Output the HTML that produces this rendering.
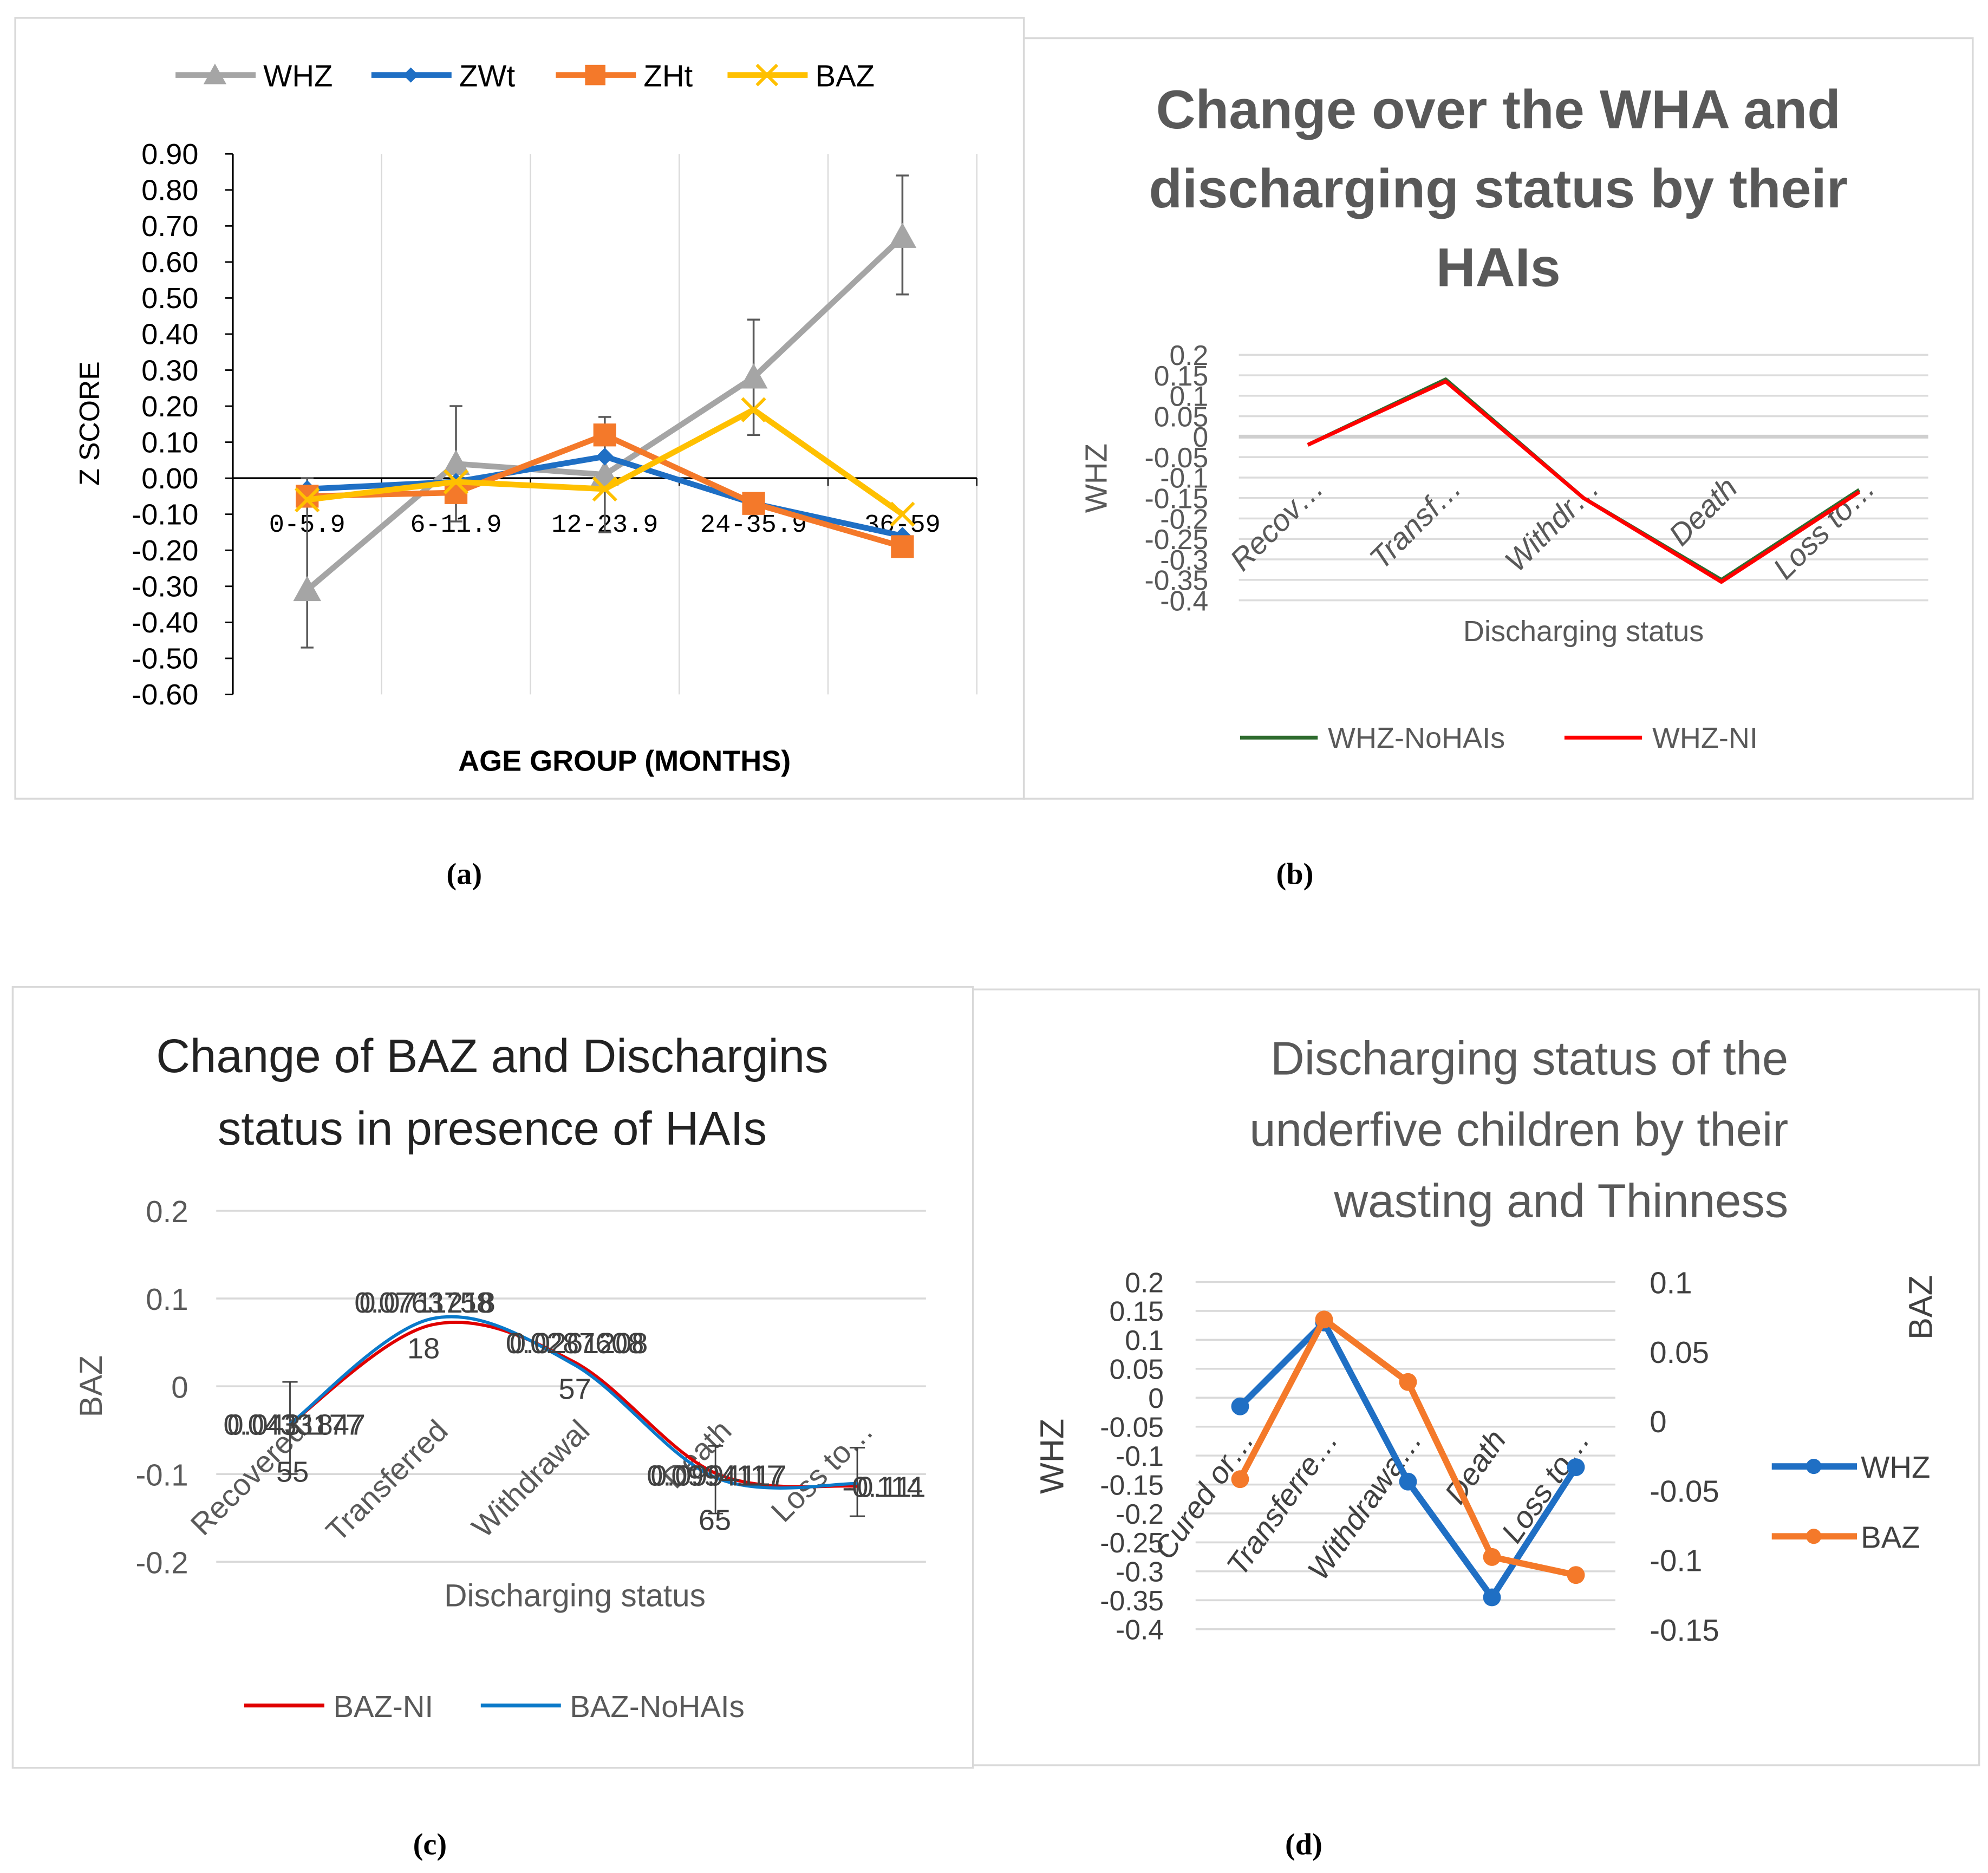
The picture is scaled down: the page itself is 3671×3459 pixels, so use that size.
<!DOCTYPE html>
<html><head><meta charset="utf-8"><style>
html,body{margin:0;padding:0;background:#fff}
svg{display:block;font-family:"Liberation Sans",sans-serif}
</style></head><body>
<svg id="root" width="3671" height="3459" viewBox="0 0 1563 1472.7" preserveAspectRatio="none" xmlns="http://www.w3.org/2000/svg">
<rect x="0" y="0" width="1563" height="1473" fill="#fff"/>
<rect x="12" y="14" width="793" height="614" fill="none" stroke="#d9d9d9" stroke-width="1.5"/>
<rect x="805" y="30" width="746" height="598" fill="none" stroke="#d9d9d9" stroke-width="1.5"/>
<rect x="10" y="776" width="755" height="614" fill="none" stroke="#d9d9d9" stroke-width="1.5"/>
<rect x="765" y="778" width="791" height="610" fill="none" stroke="#d9d9d9" stroke-width="1.5"/>
<g style="font-family:'Liberation Serif',serif" font-weight="bold" font-size="24" text-anchor="middle" fill="#000">
<text x="365" y="695">(a)</text>
<text x="1018" y="695">(b)</text>
<text x="338" y="1458">(c)</text>
<text x="1025" y="1458">(d)</text>
</g>
<g id="A"></g><g id="B"></g><g id="C"></g><g id="D"></g>
</svg>
<script>
// ---- Panel A data ----
const aCats = ["0-5.9","6-11.9","12-23.9","24-35.9","36-59"];
const aWHZ = [-0.31, 0.04, 0.01, 0.28, 0.67];
const aZWt = [-0.03, -0.01, 0.06, -0.07, -0.16];
const aZHt = [-0.05, -0.04, 0.12, -0.07, -0.19];
const aBAZ = [-0.06, -0.01, -0.03, 0.19, -0.10];
const aErrHi = [0.00, 0.20, 0.17, 0.44, 0.84];
const aErrLo = [-0.47, -0.12, -0.15, 0.12, 0.51];
const aTicks = [0.9,0.8,0.7,0.6,0.5,0.4,0.3,0.2,0.1,0,-0.1,-0.2,-0.3,-0.4,-0.5,-0.6];
// ---- Panel B data ----
const bCats = ["Recov…","Transf…","Withdr…","Death","Loss to…"];
const bNoHAIs = [-0.02, 0.14, -0.15, -0.35, -0.13];
const bNI = [-0.02, 0.135, -0.15, -0.355, -0.135];
const bTicks = [0.2,0.15,0.1,0.05,0,-0.05,-0.1,-0.15,-0.2,-0.25,-0.3,-0.35,-0.4];
// ---- Panel C data ----
const cCats = ["Recovered","Transferred","Withdrawal","Death","Loss to…"];
const cNI = [-0.043, 0.070, 0.028, -0.099, -0.114];
const cNoHAIs = [-0.043, 0.077, 0.025, -0.104, -0.111];
const cTicks = [0.2,0.1,0,-0.1,-0.2];
// ---- Panel D data ----
const dCats = ["Cured or…","Transferre…","Withdrawa…","Death","Loss to…"];
const dWHZ = [-0.015, 0.13, -0.145, -0.345, -0.12];
const dBAZ = [-0.042, 0.073, 0.028, -0.098, -0.111];
const dLeftTicks = [0.2,0.15,0.1,0.05,0,-0.05,-0.1,-0.15,-0.2,-0.25,-0.3,-0.35,-0.4];
const dRightTicks = [0.1,0.05,0,-0.05,-0.1,-0.15];

const NS="http://www.w3.org/2000/svg";
function mk(parent, tag, attrs, txt){
  const e=document.createElementNS(NS,tag);
  for(const k in attrs) e.setAttribute(k,attrs[k]);
  if(txt!==undefined) e.textContent=txt;
  parent.appendChild(e); return e;
}
function fmt2(v){return (v<0?"-":"")+Math.abs(v).toFixed(2);}
function smooth(pts){
  let d="M"+pts[0][0]+","+pts[0][1];
  for(let i=0;i<pts.length-1;i++){
    const p0=pts[i-1]||pts[i],p1=pts[i],p2=pts[i+1],p3=pts[i+2]||p2;
    const c1=[p1[0]+(p2[0]-p0[0])/6,p1[1]+(p2[1]-p0[1])/6];
    const c2=[p2[0]-(p3[0]-p1[0])/6,p2[1]-(p3[1]-p1[1])/6];
    d+=" C"+c1+" "+c2+" "+p2;
  }
  return d;
}

// ===== Panel A =====
(function(){
  const g=document.getElementById('A');
  const left=183,right=768,top=121,bot=546,vmax=0.9,vmin=-0.6;
  const y=v=>top+(vmax-v)/(vmax-vmin)*(bot-top);
  const bw=(right-left)/aCats.length;
  const x=i=>left+(i+0.5)*bw;
  for(let i=1;i<=aCats.length;i++){
    const gl=mk(g,'line',{x1:left+i*bw,x2:left+i*bw,y1:top,y2:bot,stroke:'#d9d9d9','stroke-width':1});
    
    
  }
  const ax=mk(g,'line',{x1:left,x2:left,y1:top,y2:bot,stroke:'#000','stroke-width':1.5});
  
  
  aTicks.forEach(t=>{
    mk(g,'line',{x1:left-6,x2:left,y1:y(t),y2:y(t),stroke:'#000','stroke-width':1.2});
    const tl=mk(g,'text',{x:left-27,y:y(t)+8,'text-anchor':'end','font-size':23,fill:'#000'},fmt2(t));
    
    
  });
  const zx=mk(g,'line',{x1:left,x2:right,y1:y(0),y2:y(0),stroke:'#000','stroke-width':1.5});
  
  
  for(let i=0;i<=aCats.length;i++) mk(g,'line',{x1:left+i*bw,x2:left+i*bw,y1:y(0),y2:y(0)+6,stroke:'#000'});
  aCats.forEach((c,i)=>{
    const t=mk(g,'text',{x:x(i),y:y(0)+42,'text-anchor':'middle','font-size':20,style:"font-family:'Liberation Mono',monospace",fill:'#000'},c);
    
    
  });
  aCats.forEach((c,i)=>{
    const e=mk(g,'path',{d:`M${x(i)},${y(aErrHi[i])}V${y(aErrLo[i])}M${x(i)-5},${y(aErrHi[i])}h10M${x(i)-5},${y(aErrLo[i])}h10`,stroke:'#595959','stroke-width':1.5,fill:'none'});
    
    
  });
  const series=[[aWHZ,'#a5a5a5','tri','whz'],[aZWt,'#1f6fc4','dia','zwt'],[aZHt,'#f4792a','sq','zht'],[aBAZ,'#ffc000','x','baz']];
  function marker(gg,type,cx,cy,col,s){
    if(type==='tri') return mk(gg,'path',{d:`M${cx},${cy-s}L${cx+s},${cy+s*0.8}L${cx-s},${cy+s*0.8}Z`,fill:col});
    if(type==='dia') return mk(gg,'path',{d:`M${cx},${cy-s}L${cx+s},${cy}L${cx},${cy+s}L${cx-s},${cy}Z`,fill:col});
    if(type==='sq') return mk(gg,'rect',{x:cx-s,y:cy-s,width:2*s,height:2*s,fill:col});
    return mk(gg,'path',{d:`M${cx-s},${cy-s}L${cx+s},${cy+s}M${cx-s},${cy+s}L${cx+s},${cy-s}`,stroke:col,'stroke-width':2.5,fill:'none'});
  }
  series.forEach(([vals,col,m,n])=>{
    const pl=mk(g,'polyline',{points:vals.map((v,i)=>x(i)+','+y(v)).join(' '),fill:'none',stroke:col,'stroke-width':4.5,'stroke-linejoin':'round'});
    
    
    vals.forEach((v,i)=>{
      const s={tri:11,dia:7,sq:9,x:9}[m];
      const mm=marker(g,m,x(i),y(v),col,s);
      
      
    });
  });
  const leg=[['WHZ','#a5a5a5','tri',138],['ZWt','#1f6fc4','dia',292],['ZHt','#f4792a','sq',437],['BAZ','#ffc000','x',572]];
  leg.forEach(([n,col,m,lx])=>{
    const lg=mk(g,'g',{});
    
    
    mk(lg,'line',{x1:lx,x2:lx+63,y1:59,y2:59,stroke:col,'stroke-width':4.5});
    marker(lg,m,lx+31,59,col,{tri:9,dia:6,sq:8,x:8}[m]);
    mk(lg,'text',{x:lx+69,y:68,'font-size':24,fill:'#000'},n);
  });
  const yt=mk(g,'text',{x:0,y:0,transform:'translate(78,333) rotate(-90)','text-anchor':'middle','font-size':22,fill:'#000'},'Z SCORE');
  
  
  const xt=mk(g,'text',{x:491,y:606,'text-anchor':'middle','font-size':23,'font-weight':'bold',fill:'#000'},'AGE GROUP (MONTHS)');
  
  
})();

// ===== Panel B =====
(function(){
  const g=document.getElementById('B');
  const left=974,right=1516,top=279,bot=472,vmax=0.2,vmin=-0.4;
  const y=v=>top+(vmax-v)/(vmax-vmin)*(bot-top);
  const bw=(right-left)/bCats.length;
  const x=i=>left+(i+0.5)*bw;
  ['Change over the WHA and','discharging status by their','HAIs'].forEach((l,i)=>{
    const t=mk(g,'text',{x:1178,y:101+i*62,'text-anchor':'middle','font-size':43,'font-weight':'bold',fill:'#595959'},l);
    
    
  });
  bTicks.forEach(t=>{
    const gl=mk(g,'line',{x1:left,x2:right,y1:y(t),y2:y(t),stroke:t===0?'#cfcfcf':'#dcdcdc','stroke-width':t===0?3:1.5});
    
    
    const tl=mk(g,'text',{x:950,y:y(t)+8,'text-anchor':'end','font-size':22,fill:'#595959'},String(t));
    
    
  });
  bCats.forEach((c,i)=>{
    const t=mk(g,'text',{x:0,y:0,transform:`translate(${x(i)+14},${y(-0.13)}) rotate(-45)`,'text-anchor':'end','font-size':24,'font-style':'italic',fill:'#595959'},c);
    
    
  });
  [[bNoHAIs,'#2e6b2e','nohais'],[bNI,'#ff0000','ni']].forEach(([vals,col,n])=>{
    const pl=mk(g,'polyline',{points:vals.map((v,i)=>x(i)+','+y(v)).join(' '),fill:'none',stroke:col,'stroke-width':3,'stroke-linejoin':'round'});
    
    
  });
  const yt=mk(g,'text',{x:0,y:0,transform:'translate(870,376) rotate(-90)','text-anchor':'middle','font-size':24,fill:'#595959'},'WHZ');
  
  
  const xt=mk(g,'text',{x:1245,y:504,'text-anchor':'middle','font-size':23,fill:'#595959'},'Discharging status');
  
  
  [['WHZ-NoHAIs','#2e6b2e',975],['WHZ-NI','#ff0000',1230]].forEach(([n,col,lx])=>{
    const lg=mk(g,'g',{});
    
    
    mk(lg,'line',{x1:lx,x2:lx+61,y1:580,y2:580,stroke:col,'stroke-width':3});
    mk(lg,'text',{x:lx+69,y:588,'font-size':23,fill:'#595959'},n);
  });
})();

// ===== Panel C =====
(function(){
  const g=document.getElementById('C');
  const left=170,right=728,top=952,bot=1228,vmax=0.2,vmin=-0.2;
  const y=v=>top+(vmax-v)/(vmax-vmin)*(bot-top);
  const x=i=>228+i*111.5;
  ['Change of BAZ and Dischargins','status in presence of HAIs'].forEach((l,i)=>{
    const t=mk(g,'text',{x:387,y:843+i*57,'text-anchor':'middle','font-size':37,fill:'#222'},l);
    
    
  });
  cTicks.forEach(t=>{
    const gl=mk(g,'line',{x1:left,x2:right,y1:y(t),y2:y(t),stroke:'#d9d9d9','stroke-width':1.5});
    
    
    const tl=mk(g,'text',{x:148,y:y(t)+9,'text-anchor':'end','font-size':24,fill:'#595959'},String(t));
    
    
  });
  cCats.forEach((c,i)=>{
    const t=mk(g,'text',{x:0,y:0,transform:`translate(${x(i)+14},${y(-0.05)+2}) rotate(-45)`,'text-anchor':'end','font-size':24,fill:'#595959'},c);
    
    
  });
  [[0,0.005,-0.1],[3,-0.068,-0.145],[4,-0.07,-0.148]].forEach(([i,hi,lo])=>{
    const e=mk(g,'path',{d:`M${x(i)},${y(hi)}V${y(lo)}M${x(i)-6},${y(hi)}h12M${x(i)-6},${y(lo)}h12`,stroke:'#404040','stroke-width':1.2,fill:'none'});
    
    
  });
  [[cNI,'#e00000','ni'],[cNoHAIs,'#0a79c9','nohais']].forEach(([vals,col,n])=>{
    const p=mk(g,'path',{d:smooth(vals.map((v,i)=>[x(i),y(v)])),fill:'none',stroke:col,'stroke-width':2.5});
    
    
  });
  const lbl=[[230,1128,'0.0433177','0.0431847'],[333,1032,'0.0763758','0.0711218'],[452,1064,'0.0287608','0.0261208'],[562,1168,'0.0994117','0.0994117'],[694,1177,'-0.114','-0.111']];
  lbl.forEach(([lx,ly,a,b])=>{
    const t1=mk(g,'text',{x:lx,y:ly,'text-anchor':'middle','font-size':23,fill:'#404040'},a);
    
    
    const t2=mk(g,'text',{x:lx+3,y:ly,'text-anchor':'middle','font-size':23,fill:'#404040'},b);
    
    
  });
  [[230,1165,'55'],[333,1068,'18'],[452,1100,'57'],[562,1203,'65']].forEach(([lx,ly,s])=>{
    const t=mk(g,'text',{x:lx,y:ly,'text-anchor':'middle','font-size':23,fill:'#404040'},s);
    
    
  });
  const yt=mk(g,'text',{x:0,y:0,transform:'translate(80,1090) rotate(-90)','text-anchor':'middle','font-size':25,fill:'#595959'},'BAZ');
  
  
  const xt=mk(g,'text',{x:452,y:1263,'text-anchor':'middle','font-size':25,fill:'#595959'},'Discharging status');
  
  
  [['BAZ-NI','#e00000',192],['BAZ-NoHAIs','#0a79c9',378]].forEach(([n,col,lx])=>{
    const lg=mk(g,'g',{});
    
    
    mk(lg,'line',{x1:lx,x2:lx+63,y1:1341,y2:1341,stroke:col,'stroke-width':3});
    mk(lg,'text',{x:lx+70,y:1350,'font-size':24,fill:'#595959'},n);
  });
})();

// ===== Panel D =====
(function(){
  const g=document.getElementById('D');
  const left=940,right=1270,top=1008,bot=1281;
  const yl=v=>top+(0.2-v)/0.6*(bot-top);
  const yr=v=>top+(0.1-v)/0.25*(bot-top);
  const bw=(right-left)/dCats.length;
  const x=i=>left+(i+0.5)*bw+2;
  ['Discharging status of the','underfive children by their','wasting and Thinness'].forEach((l,i)=>{
    const t=mk(g,'text',{x:1406,y:845+i*56,'text-anchor':'end','font-size':37,fill:'#595959'},l);
    
    
  });
  dLeftTicks.forEach(t=>{
    const gl=mk(g,'line',{x1:left,x2:right,y1:yl(t),y2:yl(t),stroke:'#d9d9d9','stroke-width':1.5});
    
    
    const tl=mk(g,'text',{x:915,y:yl(t)+8,'text-anchor':'end','font-size':22,fill:'#404040'},String(t));
    
    
  });
  dRightTicks.forEach(t=>{
    const tl=mk(g,'text',{x:1297,y:yr(t)+9,'font-size':24,fill:'#404040'},String(t));
    
    
  });
  dCats.forEach((c,i)=>{
    const t=mk(g,'text',{x:0,y:0,transform:`translate(${x(i)+12},${yl(-0.05)+10}) rotate(-55)`,'text-anchor':'end','font-size':24,'font-style':'italic',fill:'#404040'},c);
    
    
  });
  [[dWHZ,yl,'#1f6fc4','whz'],[dBAZ,yr,'#f4792a','baz']].forEach(([vals,yf,col,n])=>{
    const pl=mk(g,'polyline',{points:vals.map((v,i)=>x(i)+','+yf(v)).join(' '),fill:'none',stroke:col,'stroke-width':5,'stroke-linejoin':'round'});
    
    
    vals.forEach((v,i)=>{
      const c=mk(g,'circle',{cx:x(i),cy:yf(v),r:7,fill:col});
      
      
    });
  });
  const yt=mk(g,'text',{x:0,y:0,transform:'translate(836,1145) rotate(-90)','text-anchor':'middle','font-size':26,fill:'#404040'},'WHZ');
  
  
  const yt2=mk(g,'text',{x:0,y:0,transform:'translate(1519,1028) rotate(-90)','text-anchor':'middle','font-size':26,fill:'#404040'},'BAZ');
  
  
  [['WHZ','#1f6fc4',1153],['BAZ','#f4792a',1208]].forEach(([n,col,ly])=>{
    const lg=mk(g,'g',{});
    
    
    mk(lg,'line',{x1:1393,x2:1460,y1:ly,y2:ly,stroke:col,'stroke-width':5});
    mk(lg,'circle',{cx:1426,cy:ly,r:6,fill:col});
    mk(lg,'text',{x:1463,y:ly+9,'font-size':24,fill:'#404040'},n);
  });
})();
</script>
</body></html>
